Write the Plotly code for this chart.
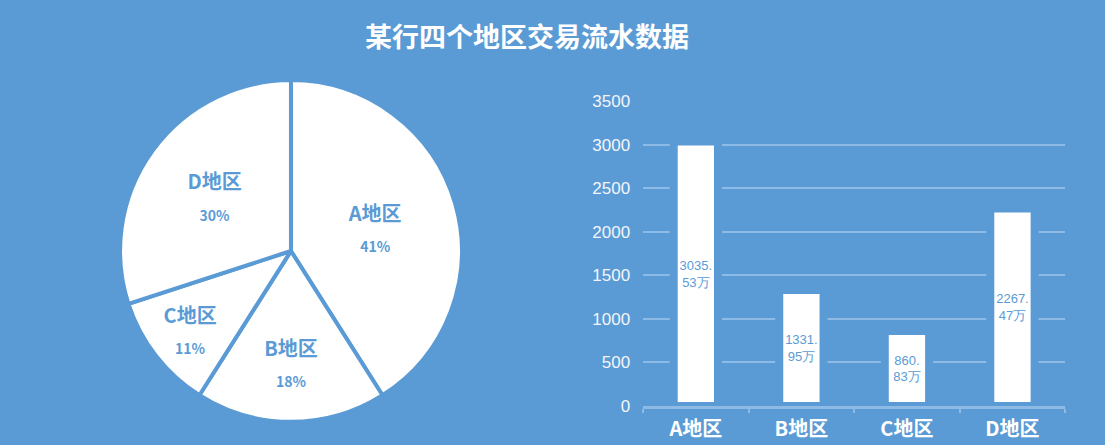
import plotly.graph_objects as go

# Regions and their transaction totals (万)
regions = ["A地区", "B地区", "C地区", "D地区"]
amounts = [3035.53, 1331.95, 860.83, 2267.47]
amount_labels = ["3035.<br>53万", "1331.<br>95万", "860.<br>83万", "2267.<br>47万"]

# Share of each region (%) shown on the pie
shares = [41, 18, 11, 30]

# Value axis ticks
y_ticks = [0, 500, 1000, 1500, 2000, 2500, 3000, 3500]

BG = "#5B9BD5"
GRID = "#8DBBE5"
CJK = "Noto Sans CJK SC"

fig = go.Figure()

fig.add_trace(go.Pie(
    labels=regions,
    values=shares,
    sort=False,
    direction="clockwise",
    rotation=0,
    domain=dict(x=[0.1086, 0.418], y=[0.052, 0.82]),
    marker=dict(colors=["#FFFFFF"] * 4, line=dict(color=BG, width=4)),
    texttemplate=(
        "<span style='font-size:20px'><b>%{label}</b></span><br><br>"
        "<span style='font-size:14px'><b>%{value}%</b></span>"
    ),
    textposition="inside",
    insidetextorientation="horizontal",
    textfont=dict(family=CJK, size=12, color=BG),
    hoverinfo="label+percent",
    showlegend=False,
))

fig.add_trace(go.Bar(
    x=regions,
    y=amounts,
    text=amount_labels,
    texttemplate="%{text}",
    textposition="inside",
    insidetextanchor="middle",
    textangle=0,
    textfont=dict(family="Liberation Sans", size=13, color=BG),
    width=0.42,
    marker=dict(color="#FFFFFF", line=dict(color=BG, width=8)),
    xaxis="x",
    yaxis="y",
    showlegend=False,
))

fig.update_layout(
    width=1105,
    height=445,
    margin=dict(l=0, r=0, t=0, b=0),
    paper_bgcolor=BG,
    plot_bgcolor=BG,
    title=dict(
        text="<b>某行四个地区交易流水数据</b>",
        x=0.477, xanchor="center",
        y=0.915, yanchor="middle",
        font=dict(family=CJK, size=27, color="#FFFFFF"),
    ),
    uniformtext=dict(minsize=12, mode="show"),
    xaxis=dict(
        domain=[0.582, 0.964],
        automargin=False,
        showgrid=False,
        showline=True,
        linecolor=GRID,
        linewidth=3,
        ticks="outside",
        tickson="boundaries",
        ticklen=4,
        tickwidth=2,
        tickcolor=GRID,
        ticklabelstandoff=3,
        tickfont=dict(family=CJK, size=20, color="#FFFFFF"),
        tickprefix="<b>",
        ticksuffix="</b>",
        fixedrange=True,
    ),
    yaxis=dict(
        domain=[0.0876, 0.773],
        automargin=False,
        range=[0, 3500],
        tickvals=y_ticks,
        showgrid=True,
        gridcolor=GRID,
        gridwidth=2,
        zeroline=False,
        showline=False,
        ticks="",
        ticklabelstandoff=12,
        tickfont=dict(family="Liberation Sans", size=17, color="#F2F6FB"),
        fixedrange=True,
    ),
)

fig.write_html("out.html")
